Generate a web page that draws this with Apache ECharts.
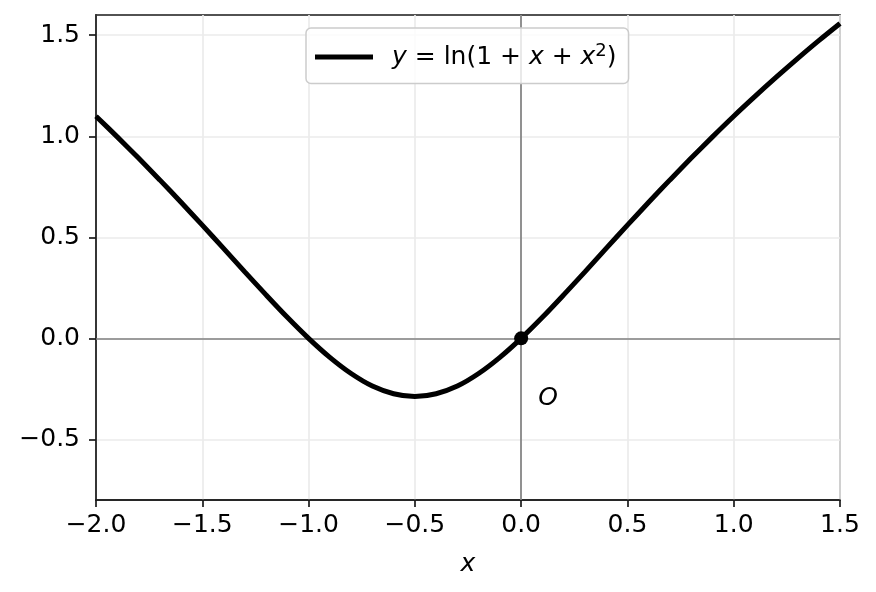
<!DOCTYPE html>
<html>
<head>
<meta charset="utf-8">
<script src="https://cdn.jsdelivr.net/npm/echarts@6/dist/echarts.min.js"></script>
<style>html,body{margin:0;padding:0;background:#fff;}#c{width:876px;height:592px;}</style>
</head>
<body>
<div id="c"></div>
<script>
const xValues = [-2.0,-1.9,-1.8,-1.7,-1.6,-1.5,-1.4,-1.3,-1.2,-1.1,-1.0,-0.9,-0.8,-0.7,-0.6,-0.5,-0.4,-0.3,-0.2,-0.1,0.0,0.1,0.2,0.3,0.4,0.5,0.6,0.7,0.8,0.9,1.0,1.1,1.2,1.3,1.4,1.5];
const yValues = [1.099,0.997,0.892,0.784,0.673,0.560,0.445,0.329,0.215,0.104,0.000,-0.094,-0.174,-0.236,-0.274,-0.288,-0.274,-0.236,-0.174,-0.094,0.000,0.104,0.215,0.329,0.445,0.560,0.673,0.784,0.892,0.997,1.099,1.197,1.292,1.384,1.473,1.558];
const xTicks = [-2.0,-1.5,-1.0,-0.5,0.0,0.5,1.0,1.5];
const yTicks = [-0.5,0.0,0.5,1.0,1.5];
const originPoint = [[0,0]];
const seriesName = 'y = ln(1 + x + x²)';

const FONT = 'DejaVu Sans';
const fmt = v => v.toFixed(1).replace('-', '\u2212');
const chart = echarts.init(document.getElementById('c'), null, {renderer:'canvas'});
chart.setOption({
  animation: false,
  backgroundColor: '#fff',
  grid: {left: 96, right: 36, top: 15, bottom: 92, show: true, borderColor: '#1a1a1a', borderWidth: 1.7, backgroundColor: 'transparent'},
  legend: {
    left: 306, top: 28,
    padding: [14, 12, 14, 9],
    borderColor: '#cccccc', borderWidth: 1.5, borderRadius: 5,
    backgroundColor: 'rgba(255,255,255,0.8)',
    itemWidth: 58, itemHeight: 5, icon: 'rect',
    data: [{name: seriesName, icon: 'rect', itemStyle: {color: '#000', opacity: 1}}],
    textStyle: {fontFamily: FONT, fontSize: 25, color: '#000', padding: [0,0,0,14],
      rich: {i: {fontFamily: FONT, fontSize: 25, fontStyle: 'italic', color: '#000', lineHeight: 30},
             n: {fontFamily: FONT, fontSize: 25, color: '#000', lineHeight: 30},
             s: {fontFamily: FONT, fontSize: 18, color: '#000', lineHeight: 30, verticalAlign: 'top'}}},
    formatter: () => '{i|y}{n| = ln(1 + }{i|x}{n| + }{i|x}{s|2}{n|)}'
  },
  xAxis: {
    type: 'value', min: -2, max: 1.5, interval: 0.5,
    name: 'x', nameLocation: 'middle', nameGap: 52,
    nameTextStyle: {fontFamily: FONT, fontSize: 25, fontStyle: 'italic', color: '#000'},
    axisLine: {show: true, onZero: false, lineStyle: {color: '#1a1a1a', width: 1.7}},
    axisTick: {show: true, length: 7, lineStyle: {color: '#1a1a1a', width: 1.7}},
    axisLabel: {fontFamily: FONT, fontSize: 25, color: '#000', margin: 13, formatter: fmt, customValues: xTicks},
    splitLine: {show: true, lineStyle: {color: '#ebebeb', width: 1.7}}
  },
  yAxis: {
    type: 'value', min: -0.8, max: 1.6,
    axisLine: {show: true, onZero: false, lineStyle: {color: '#1a1a1a', width: 1.7}},
    axisTick: {show: true, length: 7, lineStyle: {color: '#1a1a1a', width: 1.7}, customValues: yTicks},
    axisLabel: {fontFamily: FONT, fontSize: 25, color: '#000', margin: 16, formatter: fmt, customValues: yTicks},
    splitLine: {show: true, lineStyle: {color: '#ebebeb', width: 1.7}}
  },
  series: [
    {
      name: seriesName, type: 'line', smooth: 0.3, showSymbol: false, symbol: 'none',
      data: xValues.map((x, i) => [x, yValues[i]]),
      lineStyle: {color: '#000', width: 5},
      itemStyle: {color: '#000'},
      z: 5,
      markLine: {
        silent: true, symbol: ['none','none'], label: {show: false},
        lineStyle: {color: '#808080', width: 1.7, type: 'solid'},
        data: [{xAxis: 0}, {yAxis: 0}],
        z: 1
      }
    },
    {
      name: 'origin', type: 'scatter', data: originPoint, symbolSize: 14,
      itemStyle: {color: '#000', opacity: 1}, z: 6,
      label: {show: true, position: 'inside', offset: [27, 60], formatter: 'O',
        fontFamily: FONT, fontSize: 25, fontStyle: 'italic', color: '#000', opacity: 1}
    }
  ]
});
</script>
</body>
</html>
